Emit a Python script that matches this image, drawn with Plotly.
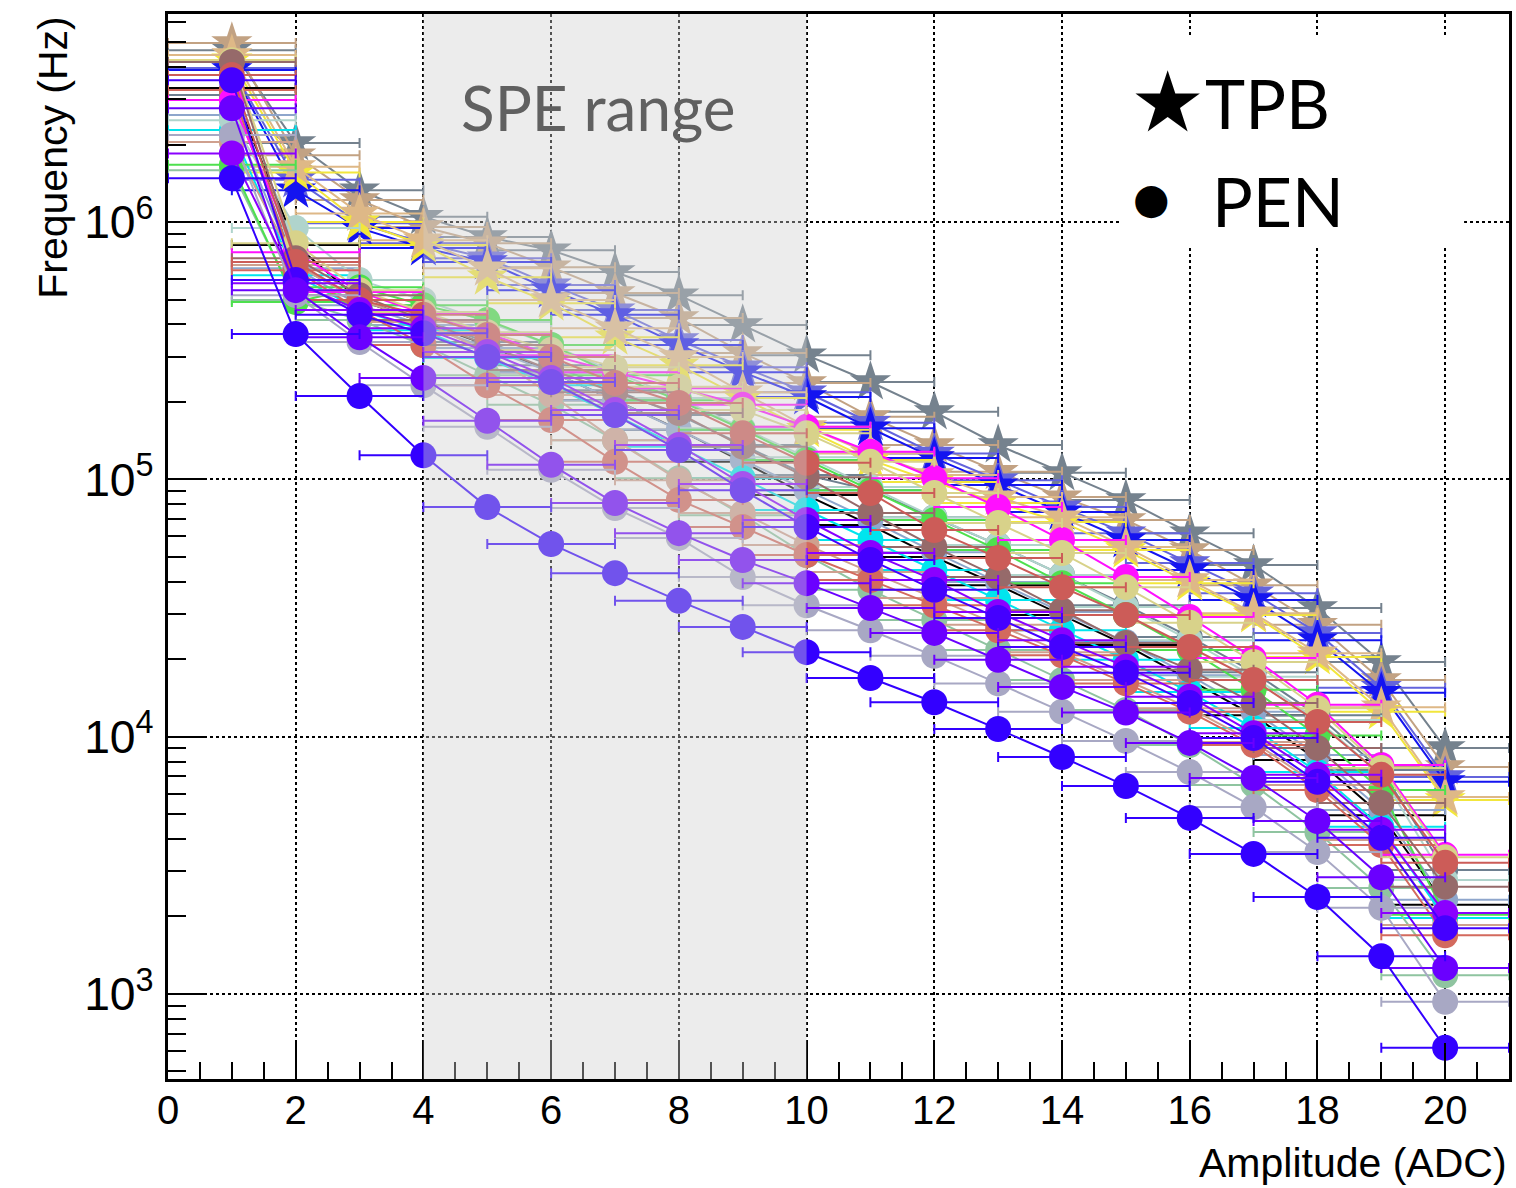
import plotly.graph_objects as go

# ---------------- data ----------------
amplitude = list(range(1, 21))  # ADC bins 1..20

# TPB samples (stars)
tpb_gray = [4.66e6, 2.03e6, 1.33e6, 1.05e6, 8.75e5, 7.78e5, 6.40e5, 5.20e5, 3.98e5, 3.04e5,
            2.39e5, 1.83e5, 1.36e5, 1.06e5, 8.32e4, 6.18e4, 4.65e4, 3.16e4, 1.95e4, 9.04e3]
tpb_tan = [4.97e6, 1.82e6, 1.22e6, 9.57e5, 8.28e5, 6.68e5, 5.30e5, 4.24e5, 3.10e5, 2.37e5,
           1.75e5, 1.36e5, 1.07e5, 8.53e4, 6.95e4, 5.31e4, 3.88e4, 2.72e4, 1.66e4, 7.62e3]
tpb_slateblue = [3.97e6, 1.46e6, 9.90e5, 8.28e5, 7.24e5, 5.69e5, 4.55e5, 3.48e5, 2.73e5, 2.18e5,
                 1.66e5, 1.26e5, 9.93e4, 7.80e4, 6.18e4, 4.73e4, 3.61e4, 2.53e4, 1.55e4, 6.97e3]
tpb_blue = [3.90e6, 1.33e6, 9.48e5, 7.93e5, 7.00e5, 5.44e5, 4.36e5, 3.33e5, 2.61e5, 2.09e5,
            1.58e5, 1.21e5, 9.50e4, 7.46e4, 5.81e4, 4.44e4, 3.40e4, 2.37e4, 1.48e4, 6.67e3]
tpb_yellow = [4.26e6, 1.56e6, 1.00e6, 8.15e5, 6.11e5, 4.84e5, 3.57e5, 2.78e5, 2.07e5, 1.56e5,
              1.19e5, 9.77e4, 8.09e4, 6.82e4, 5.31e4, 3.95e4, 2.97e4, 2.04e4, 1.25e4, 5.67e3]
tpb_burlywood = [4.46e6, 1.64e6, 1.08e6, 8.51e5, 6.62e5, 4.98e5, 3.87e5, 2.99e5, 2.18e5, 1.60e5,
                 1.26e5, 1.04e5, 8.53e4, 7.13e4, 5.46e4, 4.06e4, 3.02e4, 2.11e4, 1.30e4, 5.82e3]

# PEN samples (circles)
pen_black = [3.32e6, 8.15e5, 4.98e5, 4.09e5, 3.33e5, 2.61e5, 2.03e5, 1.56e5, 1.17e5, 8.69e4,
             6.64e4, 4.99e4, 3.88e4, 2.97e4, 2.27e4, 1.66e4, 1.21e4, 8.11e3, 4.95e3, 2.22e3]
pen_slate = [3.12e6, 6.81e5, 4.98e5, 4.16e5, 3.42e5, 2.78e5, 2.22e5, 1.78e5, 1.36e5, 1.04e5,
             9.08e4, 7.13e4, 5.56e4, 4.25e4, 3.24e4, 2.44e4, 1.78e4, 1.21e4, 7.41e3, 3.03e3]
pen_steel = [2.61e6, 6.62e5, 4.75e5, 3.98e5, 3.24e5, 2.61e5, 2.03e5, 1.56e5, 1.19e5, 9.08e4,
             6.95e4, 5.21e4, 3.99e4, 3.05e4, 2.33e4, 1.73e4, 1.25e4, 8.48e3, 5.19e3, 2.32e3]
pen_cyan = [2.28e6, 6.22e5, 4.55e5, 3.80e5, 2.96e5, 2.32e5, 1.78e5, 1.34e5, 1.01e5, 7.60e4,
            5.81e4, 4.44e4, 3.40e4, 2.59e4, 1.99e4, 1.49e4, 1.08e4, 7.28e3, 4.46e3, 1.97e3]
pen_teal = [2.49e6, 9.48e5, 5.95e5, 4.98e5, 4.09e5, 3.33e5, 2.61e5, 2.07e5, 1.58e5, 1.22e5,
            9.33e4, 7.13e4, 5.56e4, 4.25e4, 3.19e4, 2.37e4, 1.71e4, 1.16e4, 7.10e3, 2.77e3]
pen_seagreen = [1.59e6, 4.98e5, 4.16e5, 3.33e5, 2.54e5, 1.95e5, 1.42e5, 1.01e5, 7.26e4, 5.08e4,
                3.72e4, 2.84e4, 2.17e4, 1.66e4, 1.27e4, 9.27e3, 6.49e3, 4.26e3, 2.58e3, 1.18e3]
pen_green = [1.67e6, 4.89e5, 5.58e5, 4.75e5, 4.16e5, 3.33e5, 2.54e5, 2.03e5, 1.56e5, 1.19e5,
             9.08e4, 6.95e4, 5.31e4, 3.95e4, 2.97e4, 2.17e4, 1.52e4, 1.01e4, 6.20e3, 2.03e3]
pen_salmon = [2.05e6, 6.81e5, 4.98e5, 4.09e5, 3.13e5, 2.13e5, 1.42e5, 9.93e4, 7.40e4, 5.56e4,
              4.36e4, 3.46e4, 2.72e4, 2.13e4, 1.66e4, 1.29e4, 9.53e3, 6.49e3, 3.96e3, 1.85e3]
pen_red2 = [3.26e6, 6.50e5, 4.55e5, 3.33e5, 2.32e5, 1.70e5, 1.17e5, 8.32e4, 6.53e4, 5.08e4,
            4.06e4, 3.24e4, 2.59e4, 2.07e4, 1.61e4, 1.25e4, 9.27e3, 6.20e3, 3.79e3, 1.69e3]
pen_magenta = [2.98e6, 7.64e5, 5.35e5, 4.43e5, 3.70e5, 3.04e5, 2.61e5, 2.26e5, 1.95e5, 1.60e5,
               1.28e5, 1.01e5, 7.80e4, 5.81e4, 4.17e4, 2.92e4, 2.02e4, 1.33e4, 7.76e3, 3.47e3]
pen_khaki = [4.26e6, 8.28e5, 5.44e5, 4.47e5, 3.73e5, 3.18e5, 2.73e5, 2.29e5, 1.86e5, 1.51e5,
             1.17e5, 8.85e4, 6.76e4, 5.17e4, 3.81e4, 2.77e4, 1.95e4, 1.29e4, 7.55e3, 3.40e3]
pen_rosybrown = [4.19e6, 7.24e5, 5.20e5, 4.16e5, 3.33e5, 2.66e5, 2.18e5, 1.81e5, 1.34e5, 1.02e5,
                 7.40e4, 5.46e4, 4.17e4, 3.10e4, 2.31e4, 1.82e4, 1.35e4, 9.04e3, 5.52e3, 2.61e3]
pen_red1 = [3.73e6, 7.00e5, 4.98e5, 4.36e5, 3.64e5, 2.99e5, 2.37e5, 1.98e5, 1.51e5, 1.16e5,
            8.85e4, 6.35e4, 4.95e4, 3.81e4, 2.97e4, 2.23e4, 1.66e4, 1.14e4, 7.10e3, 3.23e3]
pen_lavender = [2.18e6, 5.20e5, 3.42e5, 2.32e5, 1.60e5, 1.09e5, 7.73e4, 5.92e4, 4.17e4, 3.24e4,
                2.59e4, 2.06e4, 1.61e4, 1.25e4, 9.62e3, 7.28e3, 5.32e3, 3.56e3, 2.16e3, 9.31e2]
pen_violet2 = [1.85e6, 5.79e5, 4.55e5, 3.87e5, 3.13e5, 2.48e5, 1.86e5, 1.36e5, 9.59e4, 6.95e4,
               5.17e4, 4.06e4, 3.05e4, 2.37e4, 1.87e4, 1.43e4, 1.03e4, 7.10e3, 4.34e3, 2.06e3]
pen_blue2 = [3.56e6, 5.95e5, 4.36e5, 3.70e5, 2.99e5, 2.39e5, 1.78e5, 1.30e5, 9.08e4, 6.53e4,
             4.86e4, 3.72e4, 2.89e4, 2.23e4, 1.77e4, 1.35e4, 9.88e3, 6.67e3, 4.04e3, 1.80e3]
pen_violet = [2.77e6, 5.44e5, 3.57e5, 2.48e5, 1.69e5, 1.14e5, 8.09e4, 6.18e4, 4.86e4, 3.95e4,
              3.16e4, 2.53e4, 1.99e4, 1.56e4, 1.24e4, 9.45e3, 6.90e3, 4.70e3, 2.84e3, 1.26e3]
pen_blue1 = [1.48e6, 3.67e5, 2.11e5, 1.24e5, 7.80e4, 5.61e4, 4.32e4, 3.37e4, 2.67e4, 2.13e4,
             1.69e4, 1.36e4, 1.07e4, 8.33e3, 6.43e3, 4.83e3, 3.50e3, 2.38e3, 1.40e3, 6.17e2]

amplitude_halfwidth = 1  # horizontal error = +-1 ADC

tpb_data = [tpb_gray, tpb_tan, tpb_slateblue, tpb_blue, tpb_yellow, tpb_burlywood]
tpb_colors = ["#75828e", "#c2a283", "#6464dc", "#1414f0", "#f2e63c", "#deb887"]

pen_data = [pen_black, pen_slate, pen_steel, pen_cyan, pen_teal, pen_seagreen, pen_green,
            pen_salmon, pen_red2, pen_magenta, pen_khaki, pen_rosybrown, pen_red1,
            pen_lavender, pen_violet2, pen_blue2, pen_violet, pen_blue1]
pen_colors = ["#000000", "#6e8090", "#8ea6cc", "#00e5ee", "#b0d4cc", "#8fc4a0", "#4ee04e",
              "#cfa08e", "#d36a5e", "#ff10ff", "#d8d28a", "#966a6a", "#cc5c58",
              "#a8a8c4", "#8a00ff", "#4400ff", "#6a00ff", "#3300ff"]

# ---------------- figure ----------------
fig = go.Figure()


def add_series(values, color, symbol, size, show_markers=True):
    fig.add_trace(go.Scatter(
        x=amplitude, y=values,
        mode="lines+markers" if show_markers else "lines",
        line=dict(color=color, width=2),
        marker=dict(symbol=symbol, size=size, color=color, line=dict(width=0)),
        error_x=dict(type="constant", value=amplitude_halfwidth, color=color,
                     thickness=2, width=5),
        showlegend=False, hoverinfo="x+y",
    ))


for vals, col in zip(tpb_data, tpb_colors):
    add_series(vals, col, "star", 31)

for vals, col in zip(pen_data, pen_colors):
    add_series(vals, col, "circle", 26, show_markers=(col != "#000000"))

axis_font = dict(family="Liberation Sans, Arial, sans-serif", size=40, color="black")
yaxis_font = dict(family="Liberation Sans, Arial, sans-serif", size=37, color="black")

fig.update_layout(
    width=1516, height=1188,
    margin=dict(l=168, r=4, t=14, b=109),
    paper_bgcolor="white", plot_bgcolor="white",
    font=axis_font,
    xaxis=dict(
        range=[0, 21], tickmode="linear", tick0=0, dtick=2,
        ticks="inside", ticklen=36, tickwidth=2, tickcolor="black",
        minor=dict(dtick=0.5, ticks="inside", ticklen=17, tickwidth=2,
                   tickcolor="black", showgrid=False),
        showgrid=True, gridcolor="black", gridwidth=2, griddash="dot",
        showline=True, linecolor="black", linewidth=3, mirror=True,
        zeroline=False, tickfont=axis_font, ticklabelstandoff=-6,
    ),
    yaxis=dict(
        type="log", range=[2.669, 6.809], tickmode="linear", tick0=0, dtick=1,
        exponentformat="power",
        ticks="inside", ticklen=36, tickwidth=2, tickcolor="black",
        minor=dict(dtick="D1", ticks="inside", ticklen=18, tickwidth=2,
                   tickcolor="black", showgrid=False),
        showgrid=True, gridcolor="black", gridwidth=2, griddash="dot",
        showline=True, linecolor="black", linewidth=3, mirror=True,
        zeroline=False, tickfont=yaxis_font, ticklabelstandoff=4,
    ),
)

# SPE range shaded band (drawn on top, semi-transparent like the original)
fig.add_shape(type="rect", xref="x", yref="paper", x0=4, x1=10, y0=0, y1=1,
              fillcolor="rgba(208,208,208,0.40)", line=dict(width=0), layer="above")
fig.add_annotation(text="SPE range", xref="x", yref="paper", x=6.74, y=0.913,
                   showarrow=False, font=dict(family="Lato, sans-serif", size=62, color="#606060"),
                   xanchor="center", yanchor="middle")

# legend box
fig.add_shape(type="rect", xref="paper", yref="paper", x0=0.7098, x1=0.9665, y0=0.783, y1=0.980,
              fillcolor="white", line=dict(width=0), layer="above")
fig.add_annotation(text="★", xref="paper", yref="paper", x=0.7455, y=0.917, showarrow=False,
                   font=dict(family="DejaVu Sans", size=84, color="black"),
                   xanchor="center", yanchor="middle")
fig.add_annotation(text="TPB", xref="paper", yref="paper", x=0.7715, y=0.917, showarrow=False,
                   font=dict(family="Lato, sans-serif", size=68, color="black"),
                   xanchor="left", yanchor="middle")
fig.add_annotation(text="●", xref="paper", yref="paper", x=0.7336, y=0.827, showarrow=False,
                   font=dict(family="DejaVu Sans", size=42, color="black"),
                   xanchor="center", yanchor="middle")
fig.add_annotation(text="PEN", xref="paper", yref="paper", x=0.7770, y=0.825, showarrow=False,
                   font=dict(family="Lato, sans-serif", size=68, color="black"),
                   xanchor="left", yanchor="middle")

# axis titles (ROOT style: aligned to the axis end)
fig.add_annotation(text="Frequency (Hz)", xref="paper", yref="paper", x=-0.0863, y=1.0,
                   textangle=-90, showarrow=False, xanchor="center", yanchor="top",
                   font=dict(family="Liberation Sans, Arial, sans-serif", size=41, color="black"))
fig.add_annotation(text="Amplitude (ADC)", xref="paper", yref="paper", x=1.0, y=-0.079,
                   showarrow=False, xanchor="right", yanchor="middle",
                   font=dict(family="Liberation Sans, Arial, sans-serif", size=41, color="black"))

fig.write_html("out.html")
